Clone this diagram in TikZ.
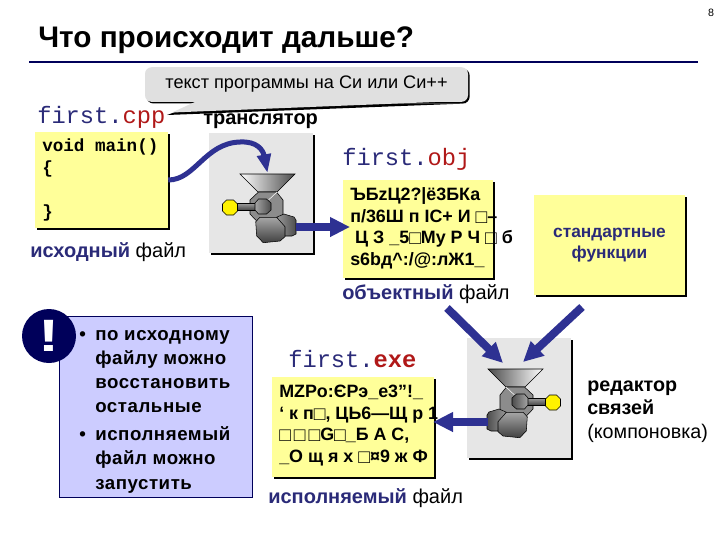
\documentclass[tikz,border=0pt]{standalone}
\usepackage{fontspec}
\setmainfont{Liberation Sans}
\setmonofont{Liberation Mono}
\usetikzlibrary{arrows.meta,shadows}
\definecolor{arrowblue}{HTML}{2E3192}
\definecolor{rulenavy}{HTML}{00005A}
\definecolor{labelnavy}{HTML}{2A2A78}
\definecolor{extred}{HTML}{B01818}
\definecolor{fileyellow}{HTML}{FFFF99}
\definecolor{panelgray}{HTML}{E6E6E6}
\definecolor{notelilac}{HTML}{CCCCFF}
\newcommand{\lname}[2]{{\color{labelnavy}#1}{\color{extred}#2}}
\newcommand{\gbx}{\raisebox{-1pt}{\fontsize{14.5}{16}\selectfont □}}
\tikzset{
  machshade/.style={left color=#1, right color=black!70},
  machine/.pic={
    \draw [black, line width=0.4pt, machshade=white] (-27.5,0) -- (27.5,0) -- (9.5,18) -- (-9.5,18) -- cycle;
    \draw [black, line width=0.4pt, fill=black!45] (-9,18) -- (9,18) -- (15.5,26) -- (15.5,40) -- (9,49) -- (-9,49) -- (-17.5,40) -- (-17.5,26) -- cycle;
    \draw [white, line width=0.4pt] (9.5,18) -- (1,26);
    \draw [black, line width=0.4pt, top color=black!40, bottom color=black!75] (-30.5,29.5) rectangle (-9,36.5);
    \draw [black, line width=0.4pt, machshade=black!35] (-9,25) -- (-1,25) -- (3.5,29) -- (3.5,36) -- (-1,40) -- (-9,40) -- (-12.5,36) -- (-12.5,29) -- cycle;
    \draw [black, line width=0.4pt, fill=yellow] (-41,26) -- (-34,26) -- (-30,30) -- (-30,37) -- (-34,41) -- (-41,41) -- (-45,37) -- (-45,30) -- cycle;
    \draw [black, line width=0.4pt, machshade=black!40] (9.5,43) -- (16.5,40) -- (26.5,43) -- (28.5,46) -- (28.5,60) -- (24.5,62) -- (17.5,62) -- cycle;
    \draw [black, line width=0.4pt, top color=black!35, bottom color=black!75] (-11.8,47.7) -- (-7.5,43.3) -- (9.2,43.3) -- (17.5,52.7) -- (17.5,62.7) -- (12.5,67) -- (-4.2,68.7) -- (-10.8,62) -- cycle;
    \coordinate (-in) at (0,-1);
    \coordinate (-out) at (28,53);
  }
}
\begin{document}
\begin{tikzpicture}[x=0.75pt,y=-0.75pt]
\tikzstyle{every node}+=[inner sep=0pt]
\tikzstyle{inktext}=[anchor=base west, align=left]
\tikzstyle{filebox}=[fill=fileyellow, general shadow={fill=black, shadow xshift=1.5pt, shadow yshift=-1.5pt}]
\tikzstyle{panelbox}=[fill=panelgray, minimum width=78pt, minimum height=90pt, general shadow={fill=black, shadow xshift=1.5pt, shadow yshift=-1.5pt}]
\tikzstyle{fnamelabel}=[inktext, font=\ttfamily\fontsize{17.8}{20}\selectfont]
\tikzstyle{kindlabel}=[inktext, font=\fontsize{15}{17}\selectfont]
\tikzstyle{dumplabel}=[inktext, font=\bfseries\fontsize{13.4}{16.1}\selectfont]
\tikzstyle{flow}=[arrowblue, line width=6pt, -{Triangle[length=15pt,width=14pt]}]
\useasboundingbox (0,0) rectangle (720,540);
\node (pagenum) at (711,13) {\fontsize{8}{10}\selectfont 8};
\node (title) [inktext, font=\bfseries\fontsize{22.3}{26}\selectfont] at (38,47) {Что происходит дальше?};
\draw [rulenavy, line width=2pt] (29,62) -- (698,62);
\node (srcfile) [fnamelabel] at (37,123) {\lname{first.}{cpp}};
\node (srclabel) [kindlabel] at (30,257) {{\bfseries\color{labelnavy}исходный} файл};
\node (srcbox) [filebox, minimum width=99.75pt, minimum height=72pt] at (101.5,180) {};
\node (srctext) [inktext, font=\ttfamily\bfseries\fontsize{13.2}{16.5}\selectfont] at (42,217) {void main()\\\{\\~\\\}};
\node (trlabel) [inktext, font=\bfseries\fontsize{15}{17}\selectfont] at (203,124) {транслятор};
\node (trpanel) [panelbox] at (260.5,193) {};
\pic (tr) at (267.5,174) {machine};
\node (objfile) [fnamelabel] at (342,165) {\lname{first.}{obj}};
\node (objbox) [filebox, minimum width=112.5pt, minimum height=73.5pt] at (418,229) {};
\node (objtext) [dumplabel] at (350,265) {ЪБzЦ2?|ё3БКа\\п/36Ш п IC+ И \gbx–\\\ Ц З \_5\gbx Му Р Ч \gbx\ б\\s6bд\^{}:/@:лЖ1\_};
\node (objlabel) [kindlabel] at (342,299) {{\bfseries\color{labelnavy}объектный} файл};
\node (stdbox) [filebox, minimum width=113.25pt, minimum height=75pt, font=\bfseries\fontsize{13}{16}\selectfont, text=labelnavy, align=center] at (609.5,245) {стандартные\\функции};
\node (lnpanel) [panelbox] at (519,398) {};
\pic (ln) [xscale=-1, machshade/.style={right color=#1, left color=black!70}] at (515.5,369) {machine};
\node (lnlabel) [inktext, font=\fontsize{14.8}{17.6}\selectfont] at (587,438) {\textbf{редактор}\\\textbf{связей}\\(компоновка)};
\node (exefile) [fnamelabel] at (288,367) {{\color{labelnavy}first.}{\bfseries\color{extred}exe}};
\node (exebox) [filebox, minimum width=121.5pt, minimum height=75pt] at (353,427) {};
\node (exetext) [dumplabel] at (279,462) {MZPo:ЄРэ\_е3"!\_\\` к п\gbx, ЦЬ6—Щ р 1\\\gbx\,\gbx\,\gbx G\gbx\_Б А С,\\\_О щ я х \gbx¤9 ж Ф};
\node (exelabel) [kindlabel] at (268,503) {{\bfseries\color{labelnavy}исполняемый} файл};
\node (notebox) [fill=notelilac, draw=rulenavy, line width=0.5pt, minimum width=144.75pt, minimum height=135.75pt] at (155.5,406.5) {};
\node (warn) [circle, fill=rulenavy, minimum size=40.5pt, text=white, font=\bfseries\fontsize{34}{34}\selectfont] at (49,336) {\scalebox{1.4}[1]{!}};
\node (notetext) [inktext, font=\bfseries\fontsize{14}{18.1}\addfontfeature{LetterSpace=3}\selectfont] at (95,489) {\llap{•\hspace{7pt}}по исходному\\файлу можно\\восстановить\\остальные\\[3pt]\llap{•\hspace{7pt}}исполняемый\\файл можно\\запустить};
\node (callout) [fill=black!12, rounded corners=5pt, minimum width=242.25pt, minimum height=26pt, general shadow={fill=black, shadow xshift=1.2pt, shadow yshift=-1.2pt}, font=\fontsize{13.6}{16}\selectfont] at (306.5,84.5) {текст программы на Си или Си++};
\coordinate (calltip) at (167,115);
\fill [black] (200,103) -- (calltip) -- (466,103.5) -- cycle;
\fill [black!12] (197,101) -- (172,112.5) -- (460,101) -- cycle;
\coordinate (objin) at (350,227);
\coordinate (exein) at (433,422);
\coordinate (objout) at (447,308);
\coordinate (stdout) at (582,307);
\coordinate (lninl) at (503,363);
\coordinate (lninr) at (523,362);
\draw [arrowblue, line width=3.75pt, -{Triangle[length=14pt,width=10pt]}] (srcbox.east) .. controls (195,180) and (205,143) .. (240,142) .. controls (257,141) and (263,150) .. (tr-in);
\draw [flow] (tr-out) -- (objin);
\draw [flow] (ln-out) -- (exein);
\draw [flow] (objout) -- (lninl);
\draw [flow] (stdout) -- (lninr);
\end{tikzpicture}
\end{document}
